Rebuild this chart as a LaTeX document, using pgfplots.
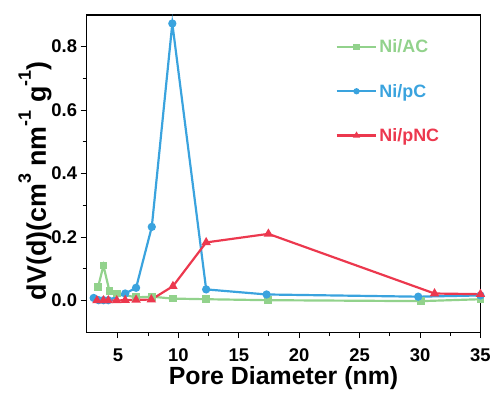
\documentclass[border=0pt]{standalone}
\usepackage{pgfplots}
\pgfplotsset{compat=1.18}
\usepackage{fontspec}
\setmainfont{Liberation Sans}
\definecolor{cg}{RGB}{146,210,140}
\definecolor{cb}{RGB}{58,163,222}
\definecolor{cr}{RGB}{236,56,78}
\newcommand{\mysup}[1]{\raisebox{15pt}{\fontsize{18}{18}\selectfont #1}}
\begin{document}
\begin{tikzpicture}
\begin{axis}[
  name=ax,
  scale only axis,
  width=396pt, height=319pt,
  xmin=2.4, xmax=35, ymin=-0.1, ymax=0.9,
  xtick={5,10,...,35}, ytick={0,0.2,...,0.8},
  minor x tick num=1, minor y tick num=1,
  tick align=outside,
  xtick pos=bottom, ytick pos=left,
  major tick length=6pt, minor tick length=4pt,
  axis line style={line width=1.3pt},
  every tick/.style={line width=1pt,black},
  /pgf/number format/assume math mode=true,
  /pgf/number format/fixed, /pgf/number format/fixed zerofill, /pgf/number format/precision=1,
  yticklabel style={font=\fontsize{18.5}{18.5}\selectfont\bfseries},
  xticklabel style={font=\fontsize{18.5}{18.5}\selectfont\bfseries, yshift=-7pt},
  xticklabel={\pgfmathprintnumber[fixed,precision=0]{\tick}},
  xlabel={Pore Diameter (nm)},
  ylabel={dV(d)(cm\mysup{3} nm\mysup{-1} g\mysup{-1})},
  xlabel style={font=\fontsize{25}{25}\selectfont\bfseries, at={(axis description cs:0.5,0)}, anchor=base, yshift=-53pt},
  ylabel style={font=\fontsize{27}{27}\selectfont\bfseries, at={(axis description cs:-0.1035,0.477)}, anchor=base},
  legend style={draw=none, fill=none, at={(0.624,0.935)}, anchor=north west,
    row sep=26pt, font=\fontsize{18}{18}\selectfont\bfseries},
  legend cell align=left,
  legend image code/.code={\draw[mark repeat=2,mark phase=2,mark size=2pt] plot coordinates {(0pt,0pt) (20pt,0pt) (40pt,0pt)};},
  every axis plot/.append style={line width=2.2pt},
]
\coordinate (ll) at (rel axis cs:0,0);
\coordinate (ur) at (rel axis cs:1,1);
\addplot[cg, mark=square*, mark size=2.8pt] coordinates {
(3.35,0.042) (3.8,0.11) (4.3,0.029) (4.9,0.022) (6.5,0.010) (7.8,0.012) (9.55,0.006) (12.3,0.004) (17.4,0.001) (30.1,-0.002) (35,0.004)};
\addlegendentry{\textcolor{cg}{Ni/AC}}
\addplot[cb, mark=*, mark size=3pt] coordinates {
(2.99,0.008) (3.4,0.001) (3.8,0.001) (4.2,0.001) (5.6,0.022) (6.5,0.040) (7.8,0.232) (9.5,0.873) (12.3,0.035) (17.3,0.019) (29.85,0.012) (35,0.016)};
\addlegendentry{\textcolor{cb}{Ni/pC}}
\addplot[cr, mark=triangle*, mark size=3.3pt] coordinates {
(3.26,0.0) (3.8,0.0) (4.2,0.0) (4.9,0.0) (5.6,0.001) (6.5,0.002) (7.76,0.003) (9.55,0.045) (12.3,0.183) (17.45,0.210) (31.2,0.022) (35,0.020)};
\addlegendentry{\textcolor{cr}{Ni/pNC}}
\end{axis}
\path ([xshift=-87pt,yshift=-58pt]ll) ([xshift=11pt,yshift=15pt]ur);
\end{tikzpicture}
\end{document}
